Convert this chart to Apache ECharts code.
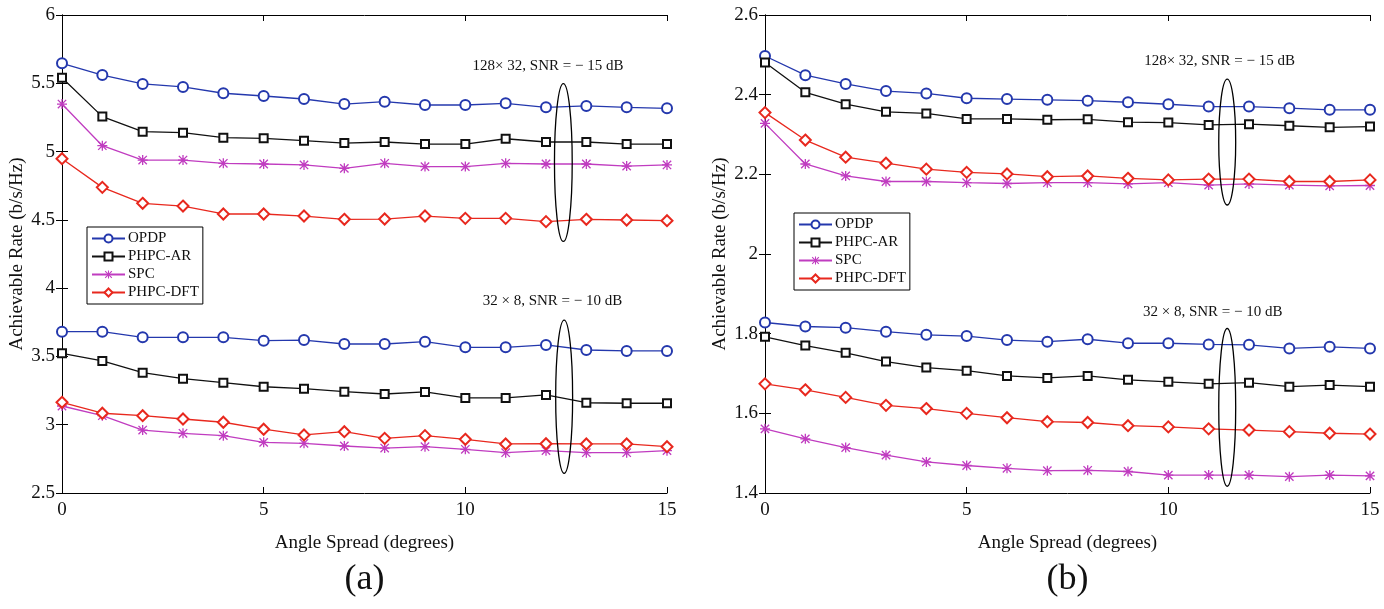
<!DOCTYPE html>
<html>
<head>
<meta charset="utf-8">
<script src="https://cdn.jsdelivr.net/npm/echarts@6/dist/echarts.min.js"></script>
<style>
html,body{margin:0;padding:0;background:#fff;}
#chart{width:1384px;height:609px;}
</style>
</head>
<body>
<div id="chart"></div>
<script>
// ---------- data ----------
const angles = [0,1,2,3,4,5,6,7,8,9,10,11,12,13,14,15];
const methodNames = ['OPDP','PHPC-AR','SPC','PHPC-DFT'];

// (a) 128x32, SNR = -15 dB
const aHigh_OPDP = [5.646,5.560,5.495,5.473,5.427,5.407,5.385,5.348,5.365,5.341,5.341,5.353,5.324,5.334,5.324,5.317];
const aHigh_AR   = [5.541,5.256,5.146,5.138,5.102,5.097,5.080,5.062,5.070,5.055,5.055,5.094,5.070,5.070,5.055,5.055];
const aHigh_SPC  = [5.348,5.043,4.938,4.938,4.914,4.909,4.902,4.877,4.914,4.890,4.890,4.914,4.909,4.909,4.894,4.902];
const aHigh_DFT  = [4.948,4.738,4.621,4.601,4.543,4.543,4.528,4.504,4.506,4.528,4.511,4.511,4.487,4.504,4.499,4.494];
// (a) 32x8, SNR = -10 dB
const aLow_OPDP  = [3.681,3.681,3.640,3.640,3.640,3.615,3.620,3.591,3.591,3.608,3.567,3.567,3.584,3.547,3.540,3.540];
const aLow_AR    = [3.523,3.467,3.381,3.337,3.308,3.278,3.264,3.242,3.225,3.240,3.196,3.196,3.218,3.161,3.157,3.157];
const aLow_SPC   = [3.137,3.066,2.961,2.937,2.920,2.871,2.864,2.844,2.829,2.839,2.820,2.795,2.810,2.795,2.795,2.810];
const aLow_DFT   = [3.164,3.084,3.066,3.042,3.018,2.967,2.925,2.949,2.900,2.920,2.893,2.859,2.861,2.859,2.859,2.839];

// (b) 128x32, SNR = -15 dB
const bHigh_OPDP = [2.497,2.449,2.427,2.409,2.403,2.391,2.389,2.387,2.385,2.381,2.376,2.370,2.370,2.366,2.362,2.362];
const bHigh_AR   = [2.481,2.406,2.376,2.357,2.353,2.339,2.339,2.337,2.338,2.331,2.330,2.324,2.326,2.322,2.318,2.320];
const bHigh_SPC  = [2.328,2.226,2.196,2.182,2.182,2.179,2.177,2.179,2.179,2.176,2.179,2.173,2.176,2.173,2.171,2.172];
const bHigh_DFT  = [2.355,2.286,2.243,2.228,2.213,2.205,2.201,2.194,2.196,2.190,2.186,2.188,2.188,2.182,2.182,2.186];
// (b) 32x8, SNR = -10 dB
const bLow_OPDP  = [1.828,1.818,1.815,1.805,1.797,1.794,1.784,1.780,1.786,1.776,1.776,1.773,1.772,1.763,1.767,1.763];
const bLow_AR    = [1.792,1.770,1.752,1.730,1.715,1.707,1.694,1.689,1.694,1.684,1.679,1.674,1.677,1.667,1.671,1.667];
const bLow_SPC   = [1.561,1.536,1.514,1.495,1.478,1.469,1.462,1.456,1.457,1.454,1.445,1.445,1.445,1.441,1.445,1.443];
const bLow_DFT   = [1.674,1.659,1.640,1.620,1.612,1.600,1.589,1.579,1.577,1.569,1.566,1.561,1.558,1.554,1.550,1.548];

const xTicks = {min:0, max:15, interval:5};
const yTicksA = {min:2.5, max:6, interval:0.5};
const yTicksB = {min:1.4, max:2.6, interval:0.2};

const labelHighText = '128\u00d7 32, SNR = \u2212 15 dB';
const labelLowText = '32 \u00d7 8, SNR = \u2212 10 dB';
const xAxisTitle = 'Angle Spread (degrees)';
const yAxisTitle = 'Achievable Rate (b/s/Hz)';

// annotations in data coordinates: [grid, cx, cy, rxData, ryData]
const ellipsesData = [
  [0, 12.43, 4.92, 0.22, 0.578],
  [0, 12.45, 3.205, 0.21, 0.561],
  [1, 11.46, 2.281, 0.21, 0.158],
  [1, 11.46, 1.615, 0.21, 0.198]
];
const labelsData = [
  [0, 12.05, 5.627, labelHighText],
  [0, 12.16, 3.906, labelLowText],
  [1, 11.27, 2.485, labelHighText],
  [1, 11.10, 1.855, labelLowText]
];

// ---------- styles ----------
const SERIF = 'Liberation Serif, Times New Roman, serif';
const colors = {'OPDP':'#2438ad','PHPC-AR':'#111111','SPC':'#c03cc0','PHPC-DFT':'#e8281e'};
const asterisk = 'path://M8.7 0L11.3 0L11.3 20L8.7 20Z M0 8.7L20 8.7L20 11.3L0 11.3Z M2.6 0.7L19.3 17.4L17.4 19.3L0.7 2.6Z M17.4 0.7L19.3 2.6L2.6 19.3L0.7 17.4Z';
const symbols = {'OPDP':'emptyCircle','PHPC-AR':'emptyRect','SPC':asterisk,'PHPC-DFT':'emptyDiamond'};
const sizes = {'OPDP':10,'PHPC-AR':8,'SPC':10,'PHPC-DFT':11};

function mkSeries(name, arr, gi) {
  const isPath = name === 'SPC';
  return {
    name: name, type:'line', xAxisIndex: gi*2, yAxisIndex: gi*2,
    data: angles.map((a,i)=>[a, arr[i]]),
    symbol: symbols[name], symbolSize: sizes[name], showAllSymbol: true,
    lineStyle:{color:colors[name], width:1.3},
    itemStyle: isPath ? {color:colors[name], borderWidth:0} : {color:colors[name], borderWidth:1.15},
    color: colors[name],
    emphasis:{disabled:true}, z: 3
  };
}

function mkAxes(gi, yT) {
  const axisLine = {show:true, lineStyle:{color:'#000', width:1}};
  const tick = {show:true, inside:true, length:6, lineStyle:{color:'#000'}};
  const lbl = {fontFamily:SERIF, fontSize:19, color:'#111'};
  return {
    x: [
      {gridIndex:gi, type:'value', min:xTicks.min, max:xTicks.max, interval:xTicks.interval, position:'bottom',
       axisLine, axisTick:tick, splitLine:{show:false}, axisLabel:{...lbl, margin:8},
       name:xAxisTitle, nameLocation:'middle', nameGap:41, nameTextStyle:{fontFamily:SERIF, fontSize:19, color:'#111'}},
      {gridIndex:gi, type:'value', min:xTicks.min, max:xTicks.max, interval:xTicks.interval, position:'top',
       axisLine, axisTick:tick, splitLine:{show:false}, axisLabel:{show:false}}
    ],
    y: [
      {gridIndex:gi, type:'value', min:yT.min, max:yT.max, interval:yT.interval, position:'left',
       axisLine, axisTick:tick, splitLine:{show:false}, axisLabel:{...lbl, margin:7},
       name:yAxisTitle, nameLocation:'middle', nameGap:35, nameRotate:90, nameTextStyle:{fontFamily:SERIF, fontSize:19, color:'#111'}},
      {gridIndex:gi, type:'value', min:yT.min, max:yT.max, interval:yT.interval, position:'right',
       axisLine, axisTick:tick, splitLine:{show:false}, axisLabel:{show:false}}
    ]
  };
}

const axA = mkAxes(0, yTicksA), axB = mkAxes(1, yTicksB);

const legendCommon = {
  orient:'vertical', data: methodNames, itemWidth:33, itemHeight:10, itemGap:3,
  padding:[4,4,4,4], borderColor:'#000', borderWidth:1, backgroundColor:'#fff',
  textStyle:{fontFamily:SERIF, fontSize:15, color:'#111', padding:[0,0,0,-2]},
  selectedMode:false
};

const chart = echarts.init(document.getElementById('chart'), null, {renderer:'canvas'});
chart.setOption({
  animation:false,
  backgroundColor:'#fff',
  grid:[
    {left:62, top:15, width:605, height:478},
    {left:765, top:15, width:605, height:478}
  ],
  xAxis:[...axA.x, ...axB.x],
  yAxis:[...axA.y, ...axB.y],
  legend:[
    {...legendCommon, left:87, top:227},
    {...legendCommon, left:794, top:213}
  ],
  series:[
    mkSeries('OPDP', aHigh_OPDP, 0), mkSeries('PHPC-AR', aHigh_AR, 0), mkSeries('SPC', aHigh_SPC, 0), mkSeries('PHPC-DFT', aHigh_DFT, 0),
    mkSeries('OPDP', aLow_OPDP, 0), mkSeries('PHPC-AR', aLow_AR, 0), mkSeries('SPC', aLow_SPC, 0), mkSeries('PHPC-DFT', aLow_DFT, 0),
    mkSeries('OPDP', bHigh_OPDP, 1), mkSeries('PHPC-AR', bHigh_AR, 1), mkSeries('SPC', bHigh_SPC, 1), mkSeries('PHPC-DFT', bHigh_DFT, 1),
    mkSeries('OPDP', bLow_OPDP, 1), mkSeries('PHPC-AR', bLow_AR, 1), mkSeries('SPC', bLow_SPC, 1), mkSeries('PHPC-DFT', bLow_DFT, 1)
  ]
});

// annotations via axis conversion
const graphics = [];
ellipsesData.forEach(([gi, cx, cy, rx, ry]) => {
  const c = chart.convertToPixel({gridIndex:gi}, [cx, cy]);
  const e = chart.convertToPixel({gridIndex:gi}, [cx + rx, cy + ry]);
  graphics.push({type:'ellipse', shape:{cx:c[0], cy:c[1], rx:Math.abs(e[0]-c[0]), ry:Math.abs(c[1]-e[1])},
    style:{fill:'none', stroke:'#000', lineWidth:1.3}, z:10});
});
labelsData.forEach(([gi, x, y, t]) => {
  const p = chart.convertToPixel({gridIndex:gi}, [x, y]);
  graphics.push({type:'text', x:p[0], y:p[1], style:{text:t, fontFamily:SERIF, fontSize:15, fill:'#111', align:'center', verticalAlign:'middle'}, z:10});
});
// subfigure captions centred under each grid
[0,1].forEach(gi => {
  const q = chart.convertToPixel({gridIndex:gi}, [7.5, gi===0 ? yTicksA.min : yTicksB.min]);
  graphics.push({type:'text', x:q[0], y:580, style:{text: gi===0 ? '(a)' : '(b)', fontFamily:SERIF, fontSize:36, fill:'#111', align:'center', verticalAlign:'middle'}, z:10});
});
chart.setOption({graphic: graphics});
</script>
</body>
</html>
